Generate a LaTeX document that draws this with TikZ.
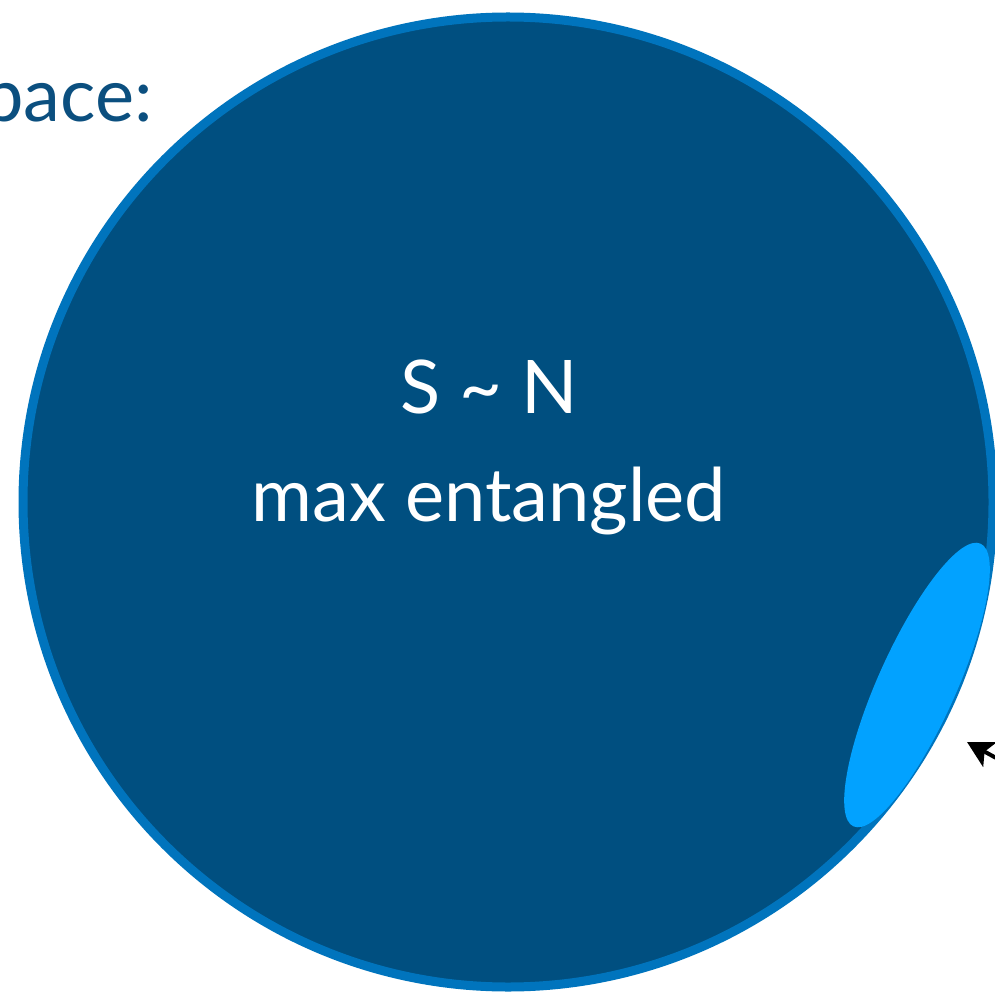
\documentclass[tikz,border=0pt]{standalone}
\usepackage{fontspec}
\setmainfont{Lato}
\usetikzlibrary{arrows.meta}
\definecolor{deep}{HTML}{004F80}
\definecolor{ringblue}{HTML}{0074BD}
\definecolor{lightspot}{HTML}{02A2FF}
\definecolor{titleblue}{HTML}{0B4F7F}
\tikzset{
  bigtext/.style={inner sep=0pt, text=white, font=\fontsize{37}{42}\selectfont},
  headtext/.style={inner sep=0pt, text=titleblue, font=\fontsize{37}{42}\selectfont},
}
\begin{document}
\begin{tikzpicture}[x=0.5pt,y=-0.5pt]
\useasboundingbox (0,0) rectangle (995,994);
% big disc
\draw[line width=4.5pt, draw=ringblue, fill=deep] (508,502) circle[radius=485];
% light ellipse
\fill[lightspot, shift={(917,685)}, rotate=65.8] (0,0) ellipse[x radius=155, y radius=39];
% texts
\node[headtext, anchor=base east] (hs) at (153,122) {space:};
\node[bigtext, anchor=base] (sn) at (489,413) {S \textasciitilde{} N};
\node[bigtext, anchor=base] (me) at (489,521) {max entangled};
% arrow
\coordinate (arrtail) at (1040,782);
\coordinate (arrtip) at (967,742);
\draw[line width=2pt, -{Stealth[length=13pt,width=14pt,inset=3pt]}] (arrtail) -- (arrtip);
\end{tikzpicture}
\end{document}
